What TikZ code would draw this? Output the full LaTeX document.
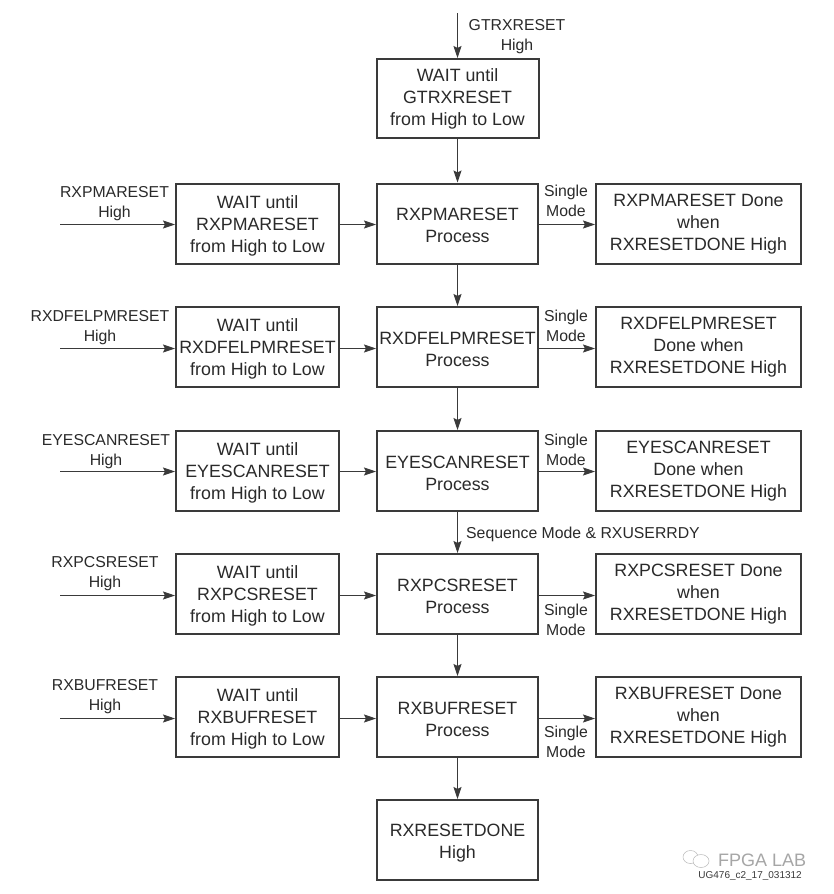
\documentclass[tikz,border=0pt]{standalone}
\usepackage{fontspec}
\setmainfont{Liberation Sans}
\usetikzlibrary{arrows.meta}
\definecolor{ink}{HTML}{3A3A3A}
\definecolor{txt}{HTML}{2A2A2A}
\tikzset{
 x=1pt,y=-1pt,
 blk/.style={draw=ink,line width=2pt,fill=white,minimum height=#1,inner sep=0pt},
 boxtext/.style={align=center,inner sep=0pt,text=txt,font=\fontsize{17.8}{22}\selectfont},
 tx/.style={label={[boxtext,yshift=-2pt]center:{#1}}},
 txd/.style={label={[boxtext,yshift=-0.5pt]center:{#1}}},
 wbox/.style={blk=80pt,minimum width=163pt},
 pbox/.style={blk=80pt,minimum width=161pt},
 dbox/.style={blk=80pt,minimum width=205pt},
 lbl/.style={align=center,inner sep=0pt,text=txt,font=\fontsize{15.8}{20}\selectfont},
 arr/.style={draw=ink,line width=1pt,-{Stealth[length=12pt,width=8pt,inset=2pt]}},
}
\begin{document}
\begin{tikzpicture}
\useasboundingbox (0,0) rectangle (833,894);
\fill[white] (0,0) rectangle (833,894);
% top
\coordinate (gtin) at (457.5,13);
\node[blk=79pt,minimum width=162pt,boxtext] (gt) at (457.5,98.5) {WAIT until\\GTRXRESET\\from High to Low};
\node[lbl] (gtl) at (517,37) {GTRXRESET\\High};
% process
\node[pbox,tx={RXPMARESET\\Process}] (p1) at (457.5,223.5) {};
\node[pbox,tx={RXDFELPMRESET\\Process}] (p2) at (457.5,347) {};
\node[pbox,tx={EYESCANRESET\\Process}] (p3) at (457.5,471) {};
\node[pbox,tx={RXPCSRESET\\Process}] (p4) at (457.5,594) {};
\node[pbox,tx={RXBUFRESET\\Process}] (p5) at (457.5,717) {};
\node[pbox,label={[boxtext,yshift=-3pt]center:{RXRESETDONE\\High}}] (p6) at (457.5,840) {};
% wait
\node[wbox,tx={WAIT until\\RXPMARESET\\from High to Low}] (w1) at (257.5,223.5) {};
\node[wbox,tx={WAIT until\\RXDFELPMRESET\\from High to Low}] (w2) at (257.5,347) {};
\node[wbox,tx={WAIT until\\EYESCANRESET\\from High to Low}] (w3) at (257.5,471) {};
\node[wbox,tx={WAIT until\\RXPCSRESET\\from High to Low}] (w4) at (257.5,594) {};
\node[wbox,tx={WAIT until\\RXBUFRESET\\from High to Low}] (w5) at (257.5,717) {};
% done
\node[dbox,txd={RXPMARESET Done\\when\\RXRESETDONE High}] (d1) at (698.5,223.5) {};
\node[dbox,txd={RXDFELPMRESET\\Done when\\RXRESETDONE High}] (d2) at (698.5,347) {};
\node[dbox,txd={EYESCANRESET\\Done when\\RXRESETDONE High}] (d3) at (698.5,471) {};
\node[dbox,txd={RXPCSRESET Done\\when\\RXRESETDONE High}] (d4) at (698.5,594) {};
\node[dbox,txd={RXBUFRESET Done\\when\\RXRESETDONE High}] (d5) at (698.5,717) {};
% left inputs
\coordinate (i1) at (60,224.5);
\coordinate (i2) at (60,348.5);
\coordinate (i3) at (60,471.5);
\coordinate (i4) at (60,595.5);
\coordinate (i5) at (60,718.5);
\node[lbl] (l1) at (114.5,203.5) {RXPMARESET\\High};
\node[lbl] (l2) at (100,327.5) {RXDFELPMRESET\\High};
\node[lbl] (l3) at (106,451.5) {EYESCANRESET\\High};
\node[lbl] (l4) at (105,574) {RXPCSRESET\\High};
\node[lbl] (l5) at (105,697) {RXBUFRESET\\High};
% mode labels
\node[lbl] (m1) at (566,201) {Single\\Mode};
\node[lbl] (m2) at (566,326) {Single\\Mode};
\node[lbl] (m3) at (566,450) {Single\\Mode};
\node[lbl] (m4) at (566,620) {Single\\Mode};
\node[lbl] (m5) at (566,742) {Single\\Mode};
\node[lbl,anchor=west] (seq) at (466,534) {Sequence Mode \& RXUSERRDY};
% connectors
\draw[arr] (gtin) -- (gtin |- gt.north);
\draw[arr] (gt) -- (p1);
\draw[arr] (p1) -- (p2);
\draw[arr] (p2) -- (p3);
\draw[arr] (p3) -- (p4);
\draw[arr] (p4) -- (p5);
\draw[arr] (p5) -- (p6);
\foreach \n in {1,...,5}{
 \draw[arr] (i\n) -- (i\n -| w\n.west);
 \draw[arr] (w\n.east |- i\n) -- (i\n -| p\n.west);
 \draw[arr] (p\n.east |- i\n) -- (i\n -| d\n.west);
}
% watermark
\node[inner sep=0pt,anchor=west,text=gray!70,font=\fontsize{18}{20}\selectfont] (fp) at (718,860) {FPGA LAB};
\node[inner sep=0pt,anchor=east,text=ink,font=\fontsize{10}{12}\selectfont] (ug) at (802,876) {UG476\_c2\_17\_031312};
\draw[gray!55,line width=.5pt] (690.5,857) ellipse [x radius=7.5,y radius=6.5];
\draw[gray!55,line width=.5pt,fill=white] (701,861) ellipse [x radius=8,y radius=6.5];
\end{tikzpicture}
\end{document}
